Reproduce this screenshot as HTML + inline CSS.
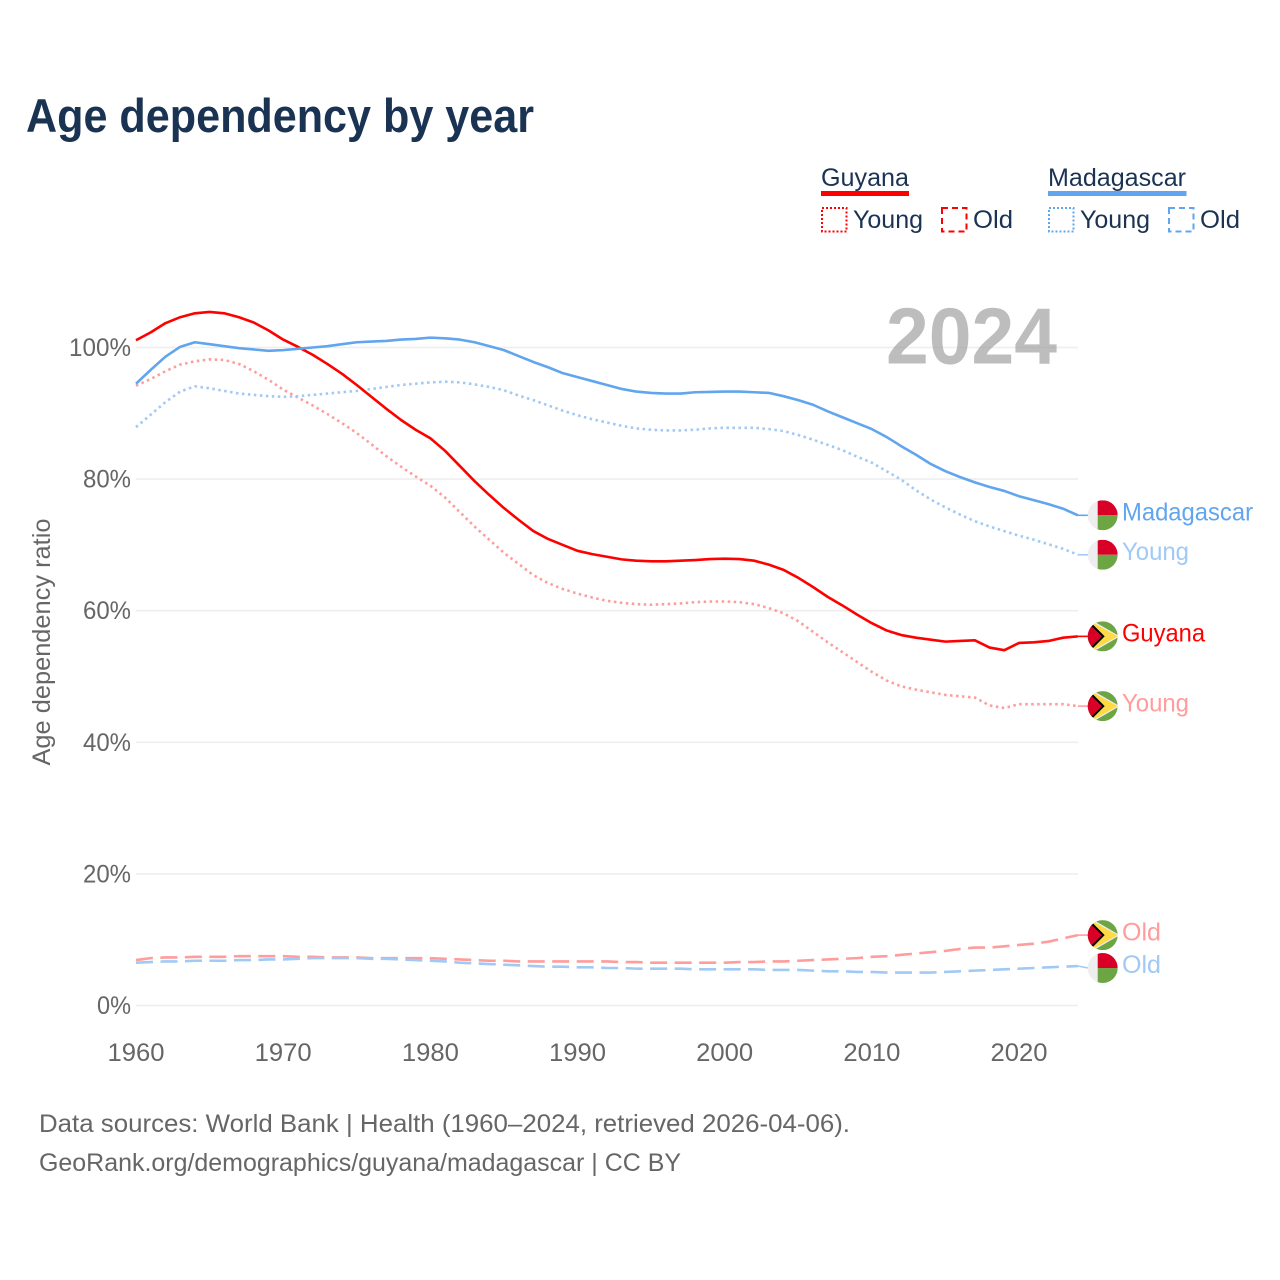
<!DOCTYPE html>
<html lang="en">
<head>
<meta charset="utf-8">
<title>Age dependency by year</title>
<style>
html,body{margin:0;padding:0;background:#fff;}
svg{display:block;font-family:"Liberation Sans",sans-serif;}
</style>
</head>
<body>
<svg id="chart" xmlns="http://www.w3.org/2000/svg" width="1280" height="1280" viewBox="0 0 1280 1280">
  <rect x="0" y="0" width="1280" height="1280" fill="#ffffff"/>
  <text x="26" y="132" font-size="47" font-weight="700" fill="#1a3353" textLength="508" lengthAdjust="spacingAndGlyphs">Age dependency by year</text>

  <g font-size="25" fill="#1a3353">
    <text x="821" y="186" textLength="88" lengthAdjust="spacingAndGlyphs">Guyana</text>
    <rect x="821" y="191" width="88" height="5" fill="#ff0000"/>
    <rect x="822" y="208" width="24.5" height="23.5" fill="none" stroke="#ff0000" stroke-width="2" stroke-dasharray="2 2"/>
    <text x="853" y="228" textLength="70" lengthAdjust="spacingAndGlyphs">Young</text>
    <rect x="942" y="208" width="24.5" height="23.5" fill="none" stroke="#ff0000" stroke-width="2" stroke-dasharray="6 4"/>
    <text x="973" y="228" textLength="40" lengthAdjust="spacingAndGlyphs">Old</text>

    <text x="1048" y="186" textLength="138" lengthAdjust="spacingAndGlyphs">Madagascar</text>
    <rect x="1048" y="191" width="138.5" height="5" fill="#60a5ee"/>
    <rect x="1049" y="208" width="24.5" height="23.5" fill="none" stroke="#60a5ee" stroke-width="2" stroke-dasharray="2 2"/>
    <text x="1080" y="228" textLength="70" lengthAdjust="spacingAndGlyphs">Young</text>
    <rect x="1169" y="208" width="24.5" height="23.5" fill="none" stroke="#60a5ee" stroke-width="2" stroke-dasharray="6 4"/>
    <text x="1200" y="228" textLength="40" lengthAdjust="spacingAndGlyphs">Old</text>
  </g>

  <g id="grid"></g>
  <g id="yticks"></g>
  <g id="xticks"></g>

  <text transform="translate(50,642) rotate(-90)" text-anchor="middle" font-size="25" fill="#666666" textLength="247" lengthAdjust="spacingAndGlyphs">Age dependency ratio</text>
  <text x="886" y="363.5" font-size="80" font-weight="700" fill="#999999" fill-opacity="0.65" textLength="171" lengthAdjust="spacingAndGlyphs">2024</text>

  <g id="series"></g>
  <g id="endlabels"></g>

  <text x="39" y="1132" font-size="25" fill="#666666" textLength="811" lengthAdjust="spacingAndGlyphs">Data sources: World Bank | Health (1960–2024, retrieved 2026-04-06).</text>
  <text x="39" y="1171" font-size="25" fill="#666666" textLength="642" lengthAdjust="spacingAndGlyphs">GeoRank.org/demographics/guyana/madagascar | CC BY</text>

  <defs>
    <clipPath id="flagClip"><circle cx="0" cy="0" r="15"/></clipPath>
  </defs>
</svg>
<script>
const startYear = 1960;
const xTickYears = [1960, 1970, 1980, 1990, 2000, 2010, 2020];
const yTickValues = [0, 20, 40, 60, 80, 100];

const guyanaTotal = [101.1,102.3,103.7,104.6,105.2,105.4,105.2,104.6,103.8,102.6,101.2,100.1,98.9,97.5,96.0,94.3,92.5,90.7,89.0,87.5,86.2,84.3,82.0,79.7,77.6,75.6,73.8,72.1,70.9,70.0,69.1,68.6,68.2,67.8,67.6,67.5,67.5,67.6,67.7,67.85,67.9,67.85,67.6,67.0,66.2,65.0,63.6,62.1,60.8,59.4,58.1,57.0,56.3,55.9,55.6,55.3,55.4,55.5,54.4,54.0,55.1,55.2,55.4,55.9,56.1];
const guyanaYoung = [94.2,95.2,96.4,97.4,97.9,98.2,98.1,97.5,96.4,95.1,93.6,92.4,91.2,89.9,88.5,87.0,85.3,83.5,81.9,80.4,79.0,77.2,75.0,72.8,70.8,68.8,67.1,65.4,64.2,63.3,62.6,62.0,61.5,61.2,61.0,60.9,61.0,61.1,61.3,61.4,61.4,61.3,61.0,60.4,59.6,58.4,56.8,55.2,53.7,52.2,50.7,49.4,48.5,48.0,47.6,47.2,47.0,46.8,45.6,45.2,45.8,45.8,45.8,45.8,45.5];
const guyanaOld = [6.9,7.2,7.3,7.3,7.4,7.4,7.4,7.5,7.5,7.5,7.5,7.4,7.4,7.3,7.3,7.3,7.2,7.2,7.2,7.2,7.2,7.1,7.0,6.9,6.8,6.8,6.7,6.7,6.7,6.7,6.7,6.7,6.7,6.6,6.6,6.5,6.5,6.5,6.5,6.5,6.5,6.6,6.6,6.7,6.7,6.8,6.9,7.0,7.1,7.2,7.4,7.5,7.7,7.9,8.1,8.3,8.6,8.8,8.8,9.0,9.2,9.4,9.7,10.2,10.7];
const madagascarTotal = [94.5,96.6,98.6,100.1,100.8,100.5,100.2,99.9,99.7,99.5,99.6,99.8,100.0,100.2,100.5,100.8,100.9,101.0,101.2,101.3,101.5,101.4,101.2,100.8,100.2,99.6,98.7,97.8,97.0,96.1,95.5,94.9,94.3,93.7,93.3,93.1,93.0,93.0,93.2,93.25,93.3,93.3,93.2,93.1,92.6,92.0,91.3,90.3,89.4,88.5,87.6,86.4,85.0,83.7,82.3,81.2,80.3,79.5,78.8,78.2,77.4,76.8,76.2,75.5,74.5];
const madagascarYoung = [87.9,89.8,91.7,93.3,94.1,93.8,93.4,93.0,92.8,92.6,92.5,92.6,92.8,93.0,93.2,93.4,93.7,94.0,94.3,94.5,94.7,94.8,94.7,94.4,94.0,93.5,92.7,92.0,91.2,90.4,89.7,89.1,88.6,88.1,87.7,87.5,87.4,87.4,87.5,87.7,87.8,87.8,87.8,87.6,87.3,86.7,86.0,85.2,84.4,83.4,82.5,81.2,79.9,78.3,76.9,75.7,74.6,73.6,72.8,72.1,71.4,70.8,70.1,69.4,68.5];
const madagascarOld = [6.5,6.6,6.7,6.7,6.8,6.8,6.8,6.9,6.9,7.0,7.0,7.1,7.2,7.2,7.2,7.2,7.1,7.1,7.0,6.9,6.8,6.7,6.5,6.4,6.3,6.2,6.1,6.0,5.9,5.9,5.8,5.8,5.7,5.7,5.6,5.6,5.6,5.6,5.5,5.5,5.5,5.5,5.5,5.4,5.4,5.4,5.3,5.2,5.2,5.1,5.1,5.0,5.0,5.0,5.0,5.1,5.2,5.3,5.4,5.5,5.6,5.7,5.8,5.9,6.0];

const NS = 'http://www.w3.org/2000/svg';
function xScale(year) { return 136 + (year - startYear) * 14.717; }
function yScale(v) { return 1005.5 - v * 6.58; }
function make(tag, parent) {
  const el = document.createElementNS(NS, tag);
  parent.appendChild(el);
  return el;
}
function pathFrom(values) {
  return values.map(function (v, i) {
    return (i ? 'L' : 'M') + xScale(startYear + i).toFixed(2) + ' ' + yScale(v).toFixed(2);
  }).join(' ');
}

const gridG = document.getElementById('grid');
const yTickG = document.getElementById('yticks');
yTickValues.forEach(function (v) {
  const line = make('line', gridG);
  
  
  line.setAttribute('x1', 136);
  line.setAttribute('x2', 1078);
  line.setAttribute('y1', yScale(v));
  line.setAttribute('y2', yScale(v));
  line.setAttribute('stroke', '#eeeeee');
  line.setAttribute('stroke-width', 1.6);
  const t = make('text', yTickG);
  
  
  t.setAttribute('x', 131);
  t.setAttribute('y', yScale(v) + 8.5);
  t.setAttribute('text-anchor', 'end');
  t.setAttribute('font-size', 25);
  t.setAttribute('fill', '#666666');
  t.setAttribute('textLength', v === 100 ? 62 : (v === 0 ? 34 : 48));
  t.setAttribute('lengthAdjust', 'spacingAndGlyphs');
  t.textContent = v + '%';
});

const xTickG = document.getElementById('xticks');
xTickYears.forEach(function (yr) {
  const t = make('text', xTickG);
  
  
  t.setAttribute('x', xScale(yr));
  t.setAttribute('y', 1061);
  t.setAttribute('text-anchor', 'middle');
  t.setAttribute('font-size', 25);
  t.setAttribute('fill', '#666666');
  t.setAttribute('textLength', 57);
  t.setAttribute('lengthAdjust', 'spacingAndGlyphs');
  t.textContent = yr;
});

const seriesList = [
  { key: 'guyana-old', values: guyanaOld, color: '#ff9c9c', dash: '17 7.5', label: 'Old', len: 39, flag: 'gy', shift: 0 },
  { key: 'madagascar-old', values: madagascarOld, color: '#a1c9f6', dash: '17 7.5', label: 'Old', len: 39, flag: 'mg', shift: 2 },
  { key: 'guyana-young', values: guyanaYoung, color: '#ff9c9c', dash: '2.5 3.5', label: 'Young', len: 67, flag: 'gy', shift: 0 },
  { key: 'madagascar-young', values: madagascarYoung, color: '#a1c9f6', dash: '2.5 3.5', label: 'Young', len: 67, flag: 'mg', shift: 0 },
  { key: 'guyana-total', values: guyanaTotal, color: '#ff0000', dash: '', label: 'Guyana', len: 83, flag: 'gy', shift: 0 },
  { key: 'madagascar-total', values: madagascarTotal, color: '#60a5ee', dash: '', label: 'Madagascar', len: 131, flag: 'mg', shift: 0 }
];

function drawFlag(parent, kind, cy) {
  const g = make('g', parent);
  g.setAttribute('transform', 'translate(1102.7,' + cy + ')');
  g.setAttribute('clip-path', 'url(#flagClip)');
  function shape(tag, attrs) {
    const s = make(tag, g);
    Object.keys(attrs).forEach(function (k) { s.setAttribute(k, attrs[k]); });
  }
  if (kind === 'mg') {
    shape('rect', { x: -15, y: -15, width: 10, height: 30, fill: '#eeeeee' });
    shape('rect', { x: -5, y: -15, width: 20, height: 15, fill: '#d80027' });
    shape('rect', { x: -5, y: 0, width: 20, height: 15, fill: '#6da544' });
  } else {
    shape('rect', { x: -15, y: -15, width: 30, height: 30, fill: '#6da544' });
    shape('polygon', { points: '-15,-18.5 17,0 -15,18.5', fill: '#eeeeee' });
    shape('polygon', { points: '-14,-16.2 15,0 -14,16.2', fill: '#ffda44' });
    shape('polygon', { points: '-12,-14 2,0 -12,14', fill: '#000000' });
    shape('polygon', { points: '-16,-15 -0.7,0 -16,15', fill: '#d80027' });
  }
  return g;
}

const seriesG = document.getElementById('series');
const endG = document.getElementById('endlabels');
seriesList.forEach(function (s) {
  const p = make('path', seriesG);
  
  
  p.setAttribute('d', pathFrom(s.values));
  p.setAttribute('fill', 'none');
  p.setAttribute('stroke', s.color);
  p.setAttribute('stroke-width', 2.6);
  p.setAttribute('stroke-linejoin', 'round');
  if (s.dash) p.setAttribute('stroke-dasharray', s.dash);

  const last = s.values[s.values.length - 1];
  const endX = xScale(startYear + s.values.length - 1);
  const endY = yScale(last);
  const cy = endY + s.shift;

  const c = make('line', endG);
  
  
  c.setAttribute('x1', endX);
  c.setAttribute('y1', endY);
  c.setAttribute('x2', 1088);
  c.setAttribute('y2', cy);
  c.setAttribute('stroke', s.color);
  c.setAttribute('stroke-width', 1.6);

  const f = drawFlag(endG, s.flag, cy);
  
  

  const t = make('text', endG);
  
  
  t.setAttribute('x', 1122);
  t.setAttribute('y', cy + 5.2);
  t.setAttribute('font-size', 25);
  t.setAttribute('fill', s.color);
  t.setAttribute('textLength', s.len);
  t.setAttribute('lengthAdjust', 'spacingAndGlyphs');
  t.textContent = s.label;
});
</script>
</body>
</html>
